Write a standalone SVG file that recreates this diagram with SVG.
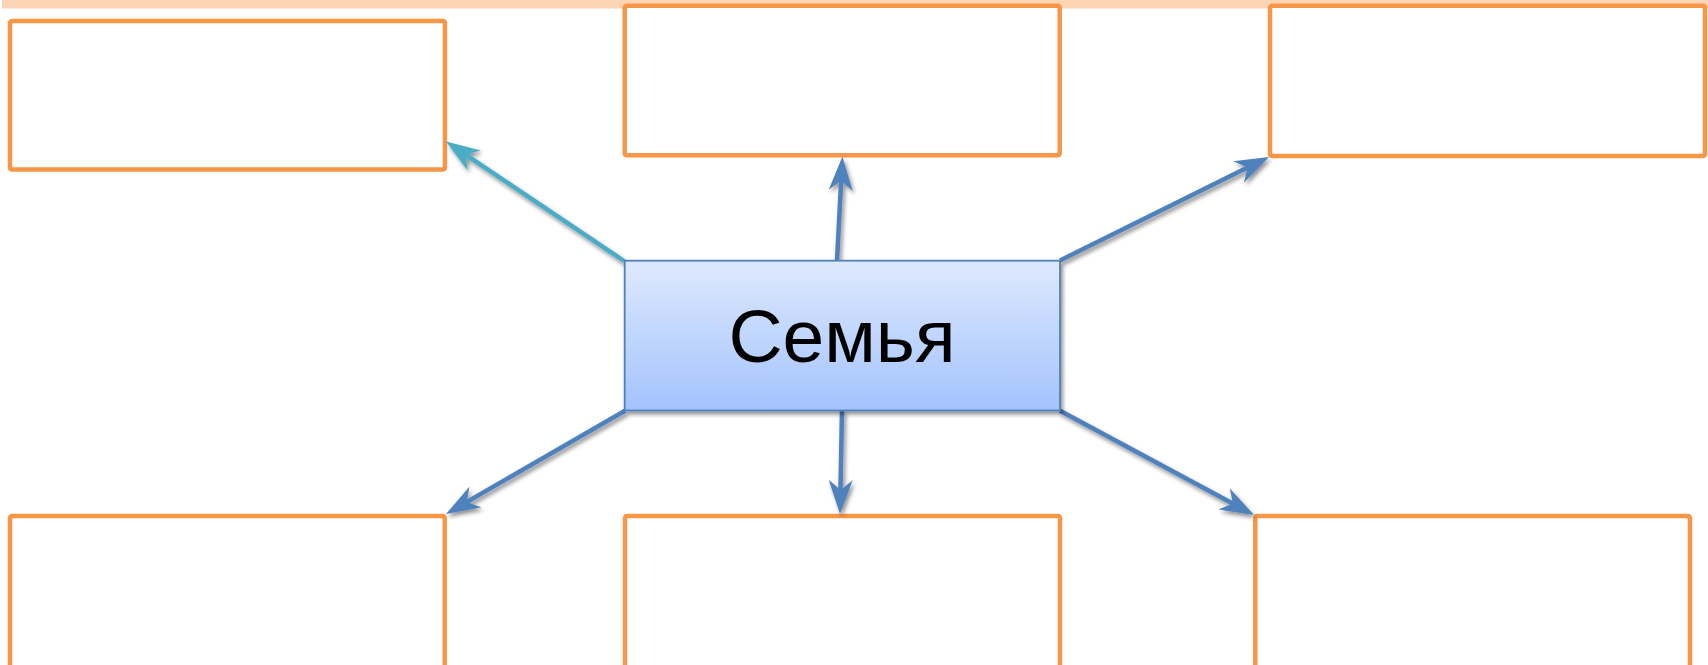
<svg xmlns="http://www.w3.org/2000/svg" width="1708" height="665" viewBox="0 0 1708 665">
  <style>
    .box { fill: #FFFFFF; stroke: #F79646; stroke-width: 4.5; }
    .conn { fill: none; stroke: #4F81BD; stroke-width: 4.5; marker-end: url(#head); }
    .conn.teal { stroke: #4BACC6; marker-end: url(#headTeal); }
    .label { font-family: "Liberation Sans", Arial, sans-serif; font-size: 75px; fill: #000000; text-anchor: middle; }
  </style>
  <defs>
    <marker id="head" viewBox="0 0 34 24" refX="14" refY="12" markerWidth="34" markerHeight="24" markerUnits="userSpaceOnUse" orient="auto">
      <path d="M34,12 L0,0 L10,12 L0,24 Z" fill="#4F81BD"/>
    </marker>
    <marker id="headTeal" viewBox="0 0 34 24" refX="14" refY="12" markerWidth="34" markerHeight="24" markerUnits="userSpaceOnUse" orient="auto">
      <path d="M34,12 L0,0 L10,12 L0,24 Z" fill="#4BACC6"/>
    </marker>
    <linearGradient id="centerFill" x1="0" y1="0" x2="0" y2="1">
      <stop offset="0" stop-color="#DEE9FD"/>
      <stop offset="1" stop-color="#A3C3FD"/>
    </linearGradient>
    <filter id="shadow" x="-20%" y="-20%" width="140%" height="140%">
      <feGaussianBlur in="SourceAlpha" stdDeviation="2"/>
      <feOffset dx="2" dy="3" result="b"/>
      <feComponentTransfer><feFuncA type="linear" slope="0.45"/></feComponentTransfer>
      <feMerge><feMergeNode/><feMergeNode in="SourceGraphic"/></feMerge>
    </filter>
  </defs>

  <rect x="2" y="0" width="1706" height="8.5" fill="#FCD5B4"/>

  <g id="box-top-left"><rect class="box" x="10" y="21" width="435" height="148.5" rx="2"/></g>
  <g id="box-top-middle"><rect class="box" x="624.7" y="5.7" width="435" height="149.6" rx="2"/></g>
  <g id="box-top-right"><rect class="box" x="1270" y="5.7" width="435" height="150.3" rx="2"/></g>
  <g id="box-bottom-left"><rect class="box" x="10" y="516" width="434.7" height="156" rx="2"/></g>
  <g id="box-bottom-middle"><rect class="box" x="625" y="516" width="435" height="156" rx="2"/></g>
  <g id="box-bottom-right"><rect class="box" x="1255.3" y="516" width="434.7" height="156" rx="2"/></g>

  <g id="connectors" filter="url(#shadow)">
    <line class="conn teal" x1="624" y1="261" x2="462.6" y2="152.6"/>
    <line class="conn" x1="837" y1="261" x2="841.4" y2="176.5"/>
    <line class="conn" x1="1060" y1="260.5" x2="1251.1" y2="165.8"/>
    <line class="conn" x1="625" y1="410.7" x2="463.3" y2="504"/>
    <line class="conn" x1="842" y1="410.5" x2="840.4" y2="494"/>
    <line class="conn" x1="1060" y1="410.7" x2="1236.4" y2="505.5"/>
  </g>

  <g id="center-node">
    <rect x="624.7" y="260.7" width="435.3" height="149.8" fill="url(#centerFill)" stroke="#4F81BD" stroke-width="1.8" filter="url(#shadow)"/>
    <text class="label" x="842" y="362">Семья</text>
  </g>
</svg>
